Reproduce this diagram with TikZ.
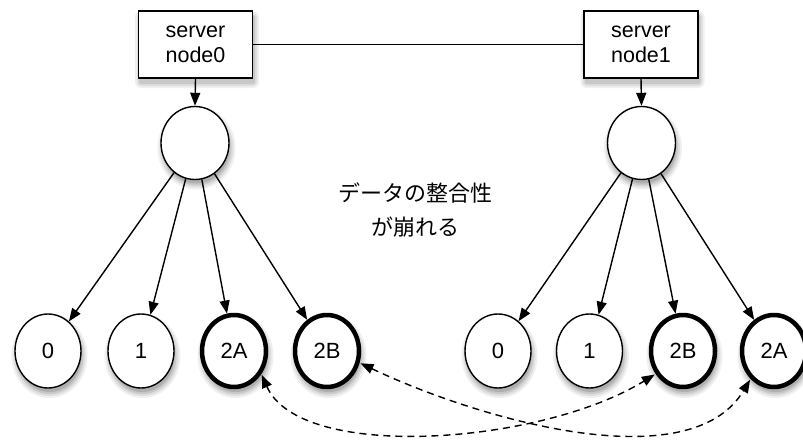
\documentclass[tikz,border=0pt]{standalone}
\usepackage{fontspec}
\setmainfont{Liberation Sans}
\newfontfamily\jp{Noto Sans CJK JP}
\usetikzlibrary{shapes.geometric,arrows.meta}
\definecolor{shA}{RGB}{240,240,240}
\definecolor{shB}{RGB}{222,222,222}
\definecolor{shC}{RGB}{200,200,200}
\definecolor{shD}{RGB}{175,175,175}
\begin{document}
\begin{tikzpicture}[x=1pt,y=-1pt,
  srv/.style={draw, line width=1.4pt, fill=white, minimum width=114pt, minimum height=67pt, inner sep=0pt, align=center, font=\fontsize{21.5}{25}\selectfont},
  hub/.style={draw, ellipse, line width=1.4pt, fill=white, minimum width=68pt, minimum height=73pt, inner sep=0pt},
  leaf/.style={draw, ellipse, line width=1.4pt, fill=white, minimum width=66pt, minimum height=74pt, inner sep=0pt, font=\fontsize{22}{25}\selectfont},
  thickleaf/.style={leaf, line width=4.5pt, minimum width=64pt, minimum height=72pt},
  arr/.style={line width=1.4pt, -{Triangle[length=13pt,width=10pt]}},
  darr/.style={line width=1.4pt, dash pattern=on 7pt off 5pt, {Triangle[length=13pt,width=10pt]}-{Triangle[length=13pt,width=10pt]}, shorten <=1pt, shorten >=1pt}
]
\useasboundingbox (0,0) rectangle (803,439);
\fill[white] (0,0) rectangle (803,439);
% shadows (drawn first, behind the nodes)
\foreach \cx/\cy/\rx/\ry in {195/143/34/36.5, 641.5/143/34/36.5, 48/351/33/37, 141/351/33/37, 234/351/33/37, 327/351/33/37, 498/351/33/37, 589.5/351/33/37, 683/351/33/37, 774/351/33/37} {
  \fill[shA] (\cx+1.5,\cy+5) ellipse [x radius=\rx+5, y radius=\ry+5];
  \fill[shB] (\cx+1.5,\cy+5) ellipse [x radius=\rx+3, y radius=\ry+3];
  \fill[shC] (\cx+1.5,\cy+5) ellipse [x radius=\rx+1, y radius=\ry+1];
  \fill[shD] (\cx+1.5,\cy+5) ellipse [x radius=\rx-1, y radius=\ry-1];
}
\foreach \cx in {195.5,641} {
  \fill[shA,rounded corners=6pt] (\cx-60.5,11) rectangle (\cx+63.5,88);
  \fill[shB,rounded corners=4pt] (\cx-58.5,13) rectangle (\cx+61.5,86);
  \fill[shC,rounded corners=2pt] (\cx-56.5,15) rectangle (\cx+59.5,84);
}
\node[srv] (s0) at (195.5,44.5) {server\\node0};
\node[srv] (s1) at (641,44.5) {server\\node1};
\draw[line width=1.4pt] (s0.east) -- (s1.west);
\node[hub] (h0) at (195,143) {};
\node[hub] (h1) at (641.5,143) {};
\draw[arr] (s0.south) -- (h0.north);
\draw[arr] (s1.south) -- (h1.north);
\node[leaf] (a0) at (48,351) {0};
\node[leaf] (a1) at (141,351) {1};
\node[thickleaf] (a2) at (234,351) {2A};
\node[thickleaf] (a3) at (327,351) {2B};
\node[leaf] (b0) at (498,351) {0};
\node[leaf] (b1) at (589.5,351) {1};
\node[thickleaf] (b2) at (683,351) {2B};
\node[thickleaf] (b3) at (774,351) {2A};
\foreach \t in {a0,a1,a2,a3} \draw[arr] (h0) -- (\t);
\foreach \t in {b0,b1,b2,b3} \draw[arr] (h1) -- (\t);
\node[font=\jp\fontsize{22}{34}\selectfont, align=center] (txt) at (415,210) {データの整合性\\が崩れる};
\draw[darr] (a2.-40) .. controls (300,462) and (540,445) .. (b2.-140);
\draw[darr] (a3.-20) .. controls (480,420) and (690,480) .. (b3.-130);
\end{tikzpicture}
\end{document}
